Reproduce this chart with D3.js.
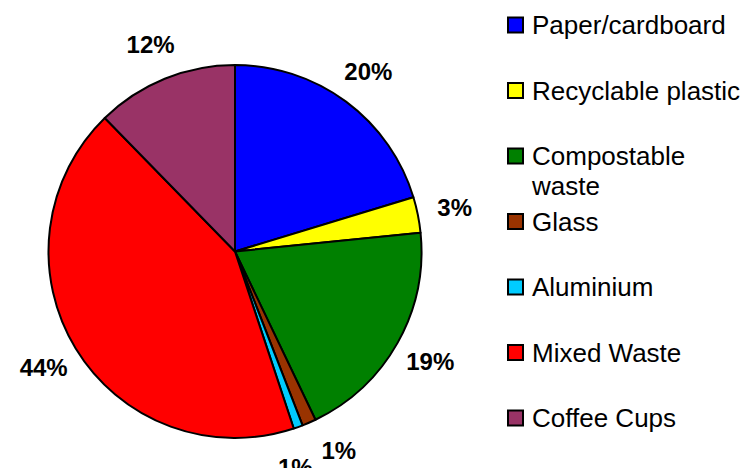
<!DOCTYPE html>
<html>
<head>
<meta charset="utf-8">
<script src="https://cdn.jsdelivr.net/npm/d3@7"></script>
<style>
  html, body { margin: 0; padding: 0; background: #fff; }
  svg { display: block; }
</style>
</head>
<body>
<svg id="chart" width="744" height="468"></svg>
<script>
const categories = ["Paper/cardboard", "Recyclable plastic", "Compostable waste", "Glass", "Aluminium", "Mixed Waste", "Coffee Cups"];
const legendLines = [["Paper/cardboard"], ["Recyclable plastic"], ["Compostable", "waste"], ["Glass"], ["Aluminium"], ["Mixed Waste"], ["Coffee Cups"]];
const values = [20.3, 3.1, 19.5, 1.2, 0.8, 42.8, 12.3];
const pctLabels = ["20%", "3%", "19%", "1%", "1%", "44%", "12%"];
const colors = ["#0000FF", "#FFFF00", "#008000", "#993300", "#00CCFF", "#FF0000", "#993366"];

const svg = d3.select("#chart");
const cx = 235, cy = 251.5, R = 186.5, labelR = 224;
const font = "'Liberation Sans', Arial, Helvetica, sans-serif";

const pie = d3.pie().sort(null).value(d => d).startAngle(0).endAngle(2 * Math.PI);
const arcs = pie(values);
const arc = d3.arc().innerRadius(0).outerRadius(R);

const g = svg.append("g").attr("transform", `translate(${cx},${cy})`);
g.selectAll("path.slice").data(arcs).enter().append("path")
  .attr("class", "slice")
  .attr("d", arc)
  .attr("fill", (d, i) => colors[i])
  .attr("stroke", "#000")
  .attr("stroke-width", 2)
  .attr("stroke-linejoin", "round");

// label angles with simple spreading of crowded neighbours
const mids = arcs.map(a => (a.startAngle + a.endAngle) / 2);
const minSep = 12 * Math.PI / 180;
for (let iter = 0; iter < 20; iter++) {
  for (let i = 0; i < mids.length - 1; i++) {
    const diff = mids[i + 1] - mids[i];
    if (diff < minSep) {
      const push = (minSep - diff) / 2;
      mids[i] -= push;
      mids[i + 1] += push;
    }
  }
}

g.selectAll("text.pct").data(arcs).enter().append("text")
  .attr("class", "pct")
  .attr("x", (d, i) => labelR * Math.sin(mids[i]))
  .attr("y", (d, i) => -labelR * Math.cos(mids[i]))
  .attr("text-anchor", "middle")
  .attr("dominant-baseline", "central")
  .attr("font-family", font)
  .attr("font-weight", "bold")
  .attr("font-size", 24)
  .attr("fill", "#000")
  .text((d, i) => pctLabels[i]);

// legend
const legendY = d3.scalePoint().domain(categories).range([25, 418]);
const lg = svg.append("g");
const items = lg.selectAll("g.item").data(categories).enter().append("g")
  .attr("class", "item")
  .attr("transform", d => `translate(508,${legendY(d)})`);
items.append("rect")
  .attr("x", 0).attr("y", -7.5)
  .attr("width", 15).attr("height", 15)
  .attr("fill", (d, i) => colors[i])
  .attr("stroke", "#000").attr("stroke-width", 2);
items.each(function(d, i) {
  const t = d3.select(this).append("text")
    .attr("x", 24).attr("y", 0)
    .attr("font-family", font)
    .attr("font-size", 26)
    .attr("fill", "#000");
  legendLines[i].forEach((line, j) => {
    t.append("tspan").attr("x", 24).attr("y", j * 30).attr("dy", "0.35em").text(line);
  });
});
</script>
</body>
</html>
